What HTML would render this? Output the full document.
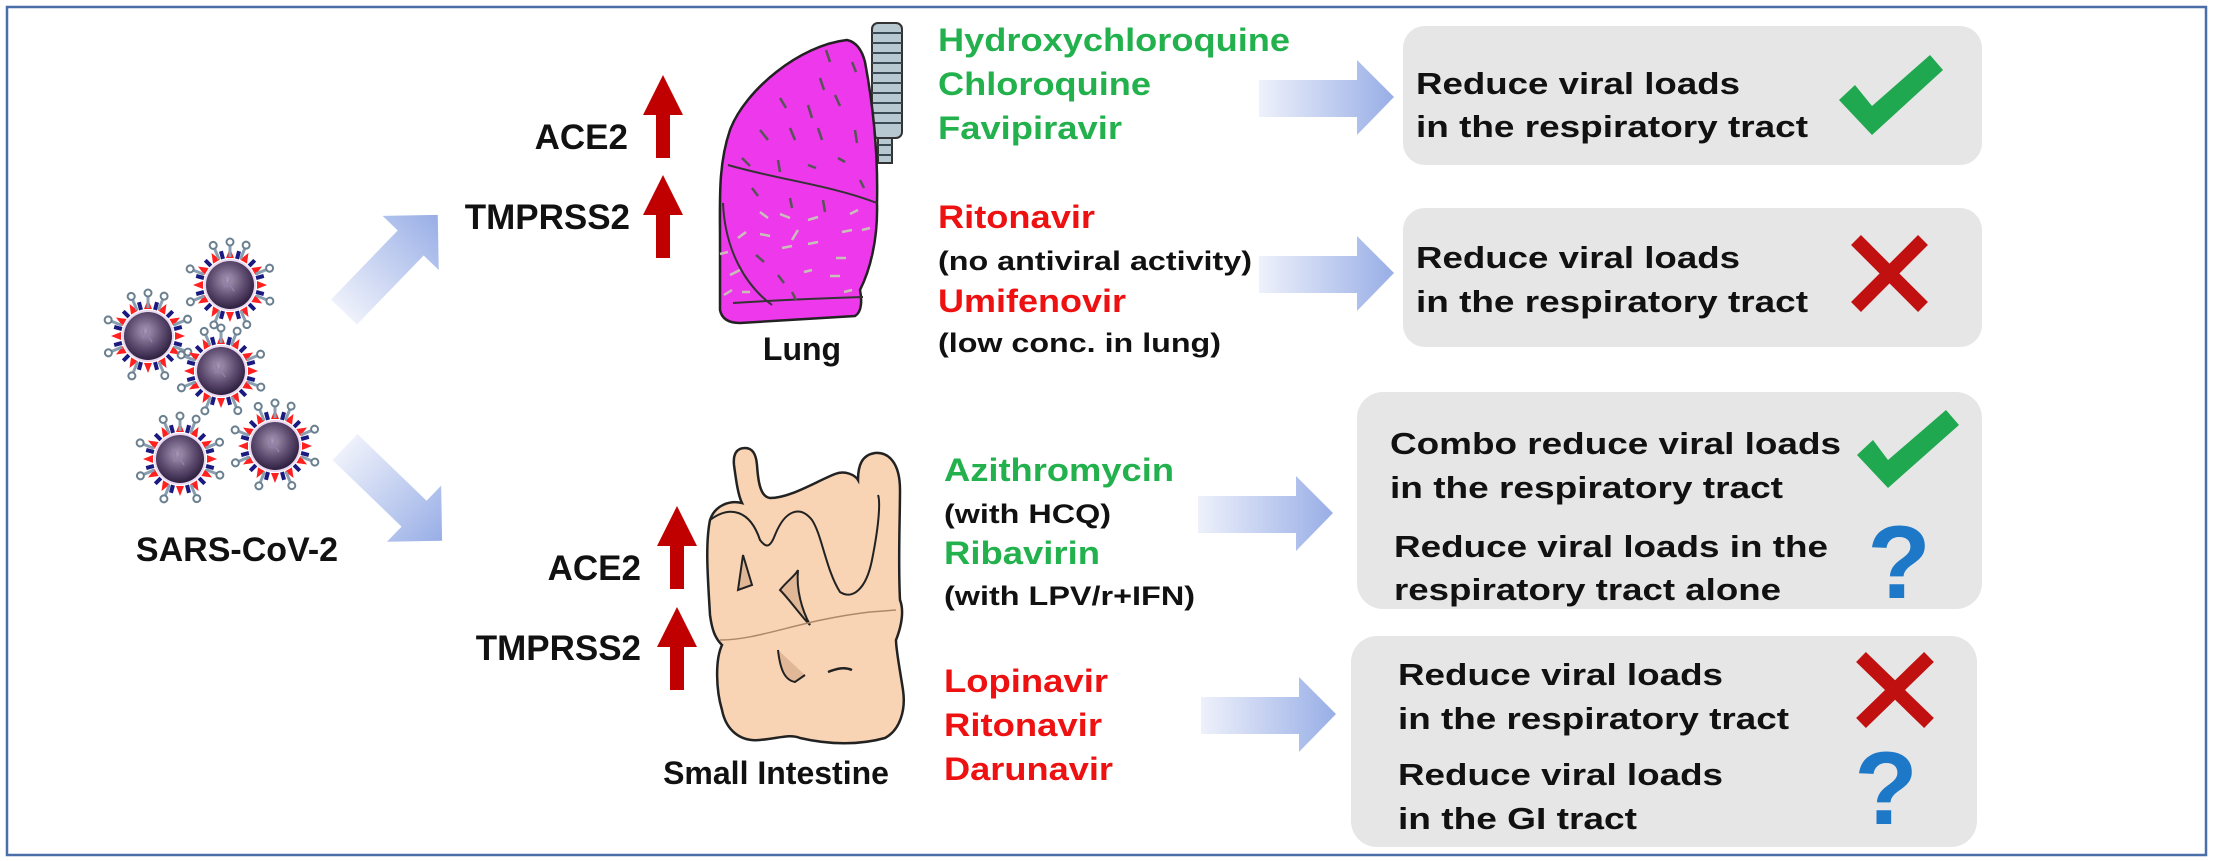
<!DOCTYPE html>
<html><head><meta charset="utf-8"><style>
html,body{margin:0;padding:0;background:#fff;}
svg{display:block;}
text{font-family:"Liberation Sans",Arial,sans-serif;font-weight:bold;}
</style></head><body>
<svg width="2213" height="861" viewBox="0 0 2213 861" xmlns="http://www.w3.org/2000/svg">
<defs>
<linearGradient id="ag" x1="0" y1="0" x2="1" y2="0">
<stop offset="0" stop-color="#eef1fb"/><stop offset="1" stop-color="#98aee6"/></linearGradient>
<radialGradient id="vg" cx="0.45" cy="0.4" r="0.6">
<stop offset="0" stop-color="#a898b4"/><stop offset="0.6" stop-color="#5e4c70"/><stop offset="1" stop-color="#2e2040"/></radialGradient>
<g id="sp">
<polygon points="-4,-27 4,-27 0,-37" fill="#ff2020"/>
<rect x="-2" y="-35" width="4" height="8" fill="#1a1a80" transform="rotate(15)"/>
</g>
<g id="lp"><line x1="0" y1="-28" x2="0" y2="-40" stroke="#8aa0b0" stroke-width="3"/><circle cx="0" cy="-43" r="3.5" fill="none" stroke="#6a8090" stroke-width="2"/></g>
<g id="virus">
<use href="#sp"/><use href="#sp" transform="rotate(30)"/><use href="#sp" transform="rotate(60)"/><use href="#sp" transform="rotate(90)"/><use href="#sp" transform="rotate(120)"/><use href="#sp" transform="rotate(150)"/><use href="#sp" transform="rotate(180)"/><use href="#sp" transform="rotate(210)"/><use href="#sp" transform="rotate(240)"/><use href="#sp" transform="rotate(270)"/><use href="#sp" transform="rotate(300)"/><use href="#sp" transform="rotate(330)"/>
<use href="#lp" transform="rotate(22)"/><use href="#lp" transform="rotate(67)"/><use href="#lp" transform="rotate(112)"/><use href="#lp" transform="rotate(157)"/><use href="#lp" transform="rotate(202)"/><use href="#lp" transform="rotate(247)"/><use href="#lp" transform="rotate(292)"/><use href="#lp" transform="rotate(337)"/><use href="#lp" transform="rotate(0)"/>
<circle r="26" fill="#e8d8f0"/>
<circle r="24" fill="url(#vg)"/>
<path d="M-8,-10 q6,6 2,12 q6,-4 10,4 M0,-12 q2,8 -4,14" stroke="#9080a8" stroke-width="1.5" fill="none"/>
</g>
<g id="harrow"><polygon points="0,20 98,20 98,0 135,37 98,75 98,57 0,57" fill="url(#ag)"/></g>
<g id="darrow"><polygon points="0,-18 96,-18 96,-39 135,0 96,39 96,18 0,18" fill="url(#ag)"/></g>
<g id="redup"><polygon points="0,40 20,0 40,40 27,40 27,83 13,83 13,40" fill="#c00000"/></g>
</defs>

<rect x="7" y="7" width="2199" height="848" fill="#fff" stroke="#4a6fa8" stroke-width="2.5"/>

<use href="#virus" x="230" y="285"/>
<use href="#virus" x="148" y="336"/>
<use href="#virus" x="221" y="371"/>
<use href="#virus" x="180" y="459"/>
<use href="#virus" x="275" y="446"/>
<text x="237" y="561" font-size="34" text-anchor="middle" fill="#111">SARS-CoV-2</text>

<use href="#darrow" transform="translate(344,312) rotate(-46)"/>
<use href="#darrow" transform="translate(345,447) rotate(44)"/>

<text x="628" y="149" font-size="35" text-anchor="end" fill="#111">ACE2</text>
<text x="630" y="229" font-size="35" text-anchor="end" fill="#111">TMPRSS2</text>
<use href="#redup" transform="translate(643,75)"/>
<use href="#redup" transform="translate(643,175)"/>

<g>
<rect x="872" y="23" width="30" height="115" rx="6" fill="#b8c8d0" stroke="#333" stroke-width="2"/>
<path d="M878,138 L878,163 L892,163 L892,138 Z" fill="#b8c8d0" stroke="#333" stroke-width="2"/>
<g stroke="#3a4a55" stroke-width="2">
<line x1="872" y1="33" x2="902" y2="33"/><line x1="872" y1="43" x2="902" y2="43"/><line x1="872" y1="53" x2="902" y2="53"/><line x1="872" y1="63" x2="902" y2="63"/><line x1="872" y1="73" x2="902" y2="73"/><line x1="872" y1="83" x2="902" y2="83"/><line x1="872" y1="93" x2="902" y2="93"/><line x1="872" y1="103" x2="902" y2="103"/><line x1="872" y1="113" x2="902" y2="113"/><line x1="872" y1="123" x2="902" y2="123"/><line x1="878" y1="145" x2="892" y2="145"/><line x1="878" y1="155" x2="892" y2="155"/>
</g>
</g>
<path d="M847,40 C800,45 745,90 730,130 C718,165 720,200 720,240 L720,310 C722,320 730,323 740,323 L855,316 C862,312 862,300 860,290 C870,270 878,240 877,203 C878,160 874,110 865,62 C862,50 856,42 847,40 Z" fill="#ee38ec" stroke="#222" stroke-width="2.5"/>
<path d="M728,165 C780,180 830,185 877,203" stroke="#333" stroke-width="2" fill="none"/>
<path d="M723,203 C725,250 745,285 772,305" stroke="#333" stroke-width="2" fill="none"/>
<path d="M733,303 C780,300 830,298 863,297" stroke="#333" stroke-width="2" fill="none"/>
<g stroke="#555" stroke-width="2.5">
<line x1="826" y1="50" x2="830" y2="62"/><line x1="852" y1="62" x2="856" y2="72"/><line x1="820" y1="78" x2="824" y2="90"/><line x1="780" y1="98" x2="786" y2="108"/><line x1="808" y1="105" x2="812" y2="118"/><line x1="835" y1="95" x2="840" y2="106"/><line x1="760" y1="130" x2="768" y2="140"/><line x1="790" y1="128" x2="795" y2="140"/><line x1="818" y1="128" x2="822" y2="140"/><line x1="855" y1="130" x2="857" y2="143"/><line x1="742" y1="158" x2="750" y2="166"/><line x1="778" y1="160" x2="780" y2="172"/><line x1="808" y1="165" x2="816" y2="168"/><line x1="838" y1="158" x2="845" y2="162"/><line x1="752" y1="188" x2="758" y2="196"/><line x1="790" y1="198" x2="792" y2="208"/><line x1="823" y1="200" x2="825" y2="212"/><line x1="860" y1="180" x2="864" y2="188"/><line x1="756" y1="255" x2="764" y2="262"/><line x1="778" y1="275" x2="784" y2="283"/><line x1="792" y1="292" x2="796" y2="300"/>
</g>
<g stroke="#c8c0b8" stroke-width="2.5">
<line x1="760" y1="212" x2="768" y2="218"/><line x1="780" y1="214" x2="790" y2="218"/><line x1="808" y1="220" x2="818" y2="217"/><line x1="850" y1="214" x2="858" y2="210"/><line x1="738" y1="238" x2="746" y2="232"/><line x1="760" y1="234" x2="770" y2="236"/><line x1="792" y1="240" x2="798" y2="230"/><line x1="842" y1="232" x2="852" y2="230"/><line x1="862" y1="230" x2="870" y2="228"/><line x1="782" y1="248" x2="792" y2="246"/><line x1="808" y1="244" x2="818" y2="242"/><line x1="720" y1="254" x2="728" y2="252"/><line x1="836" y1="258" x2="846" y2="258"/><line x1="730" y1="275" x2="740" y2="270"/><line x1="804" y1="272" x2="812" y2="270"/><line x1="830" y1="276" x2="840" y2="276"/><line x1="724" y1="295" x2="732" y2="290"/><line x1="742" y1="292" x2="750" y2="292"/><line x1="844" y1="292" x2="852" y2="290"/>
</g>
<text x="802" y="360" font-size="32" text-anchor="middle" fill="#111">Lung</text>

<text x="641" y="580" font-size="35" text-anchor="end" fill="#111">ACE2</text>
<text x="641" y="660" font-size="35" text-anchor="end" fill="#111">TMPRSS2</text>
<use href="#redup" transform="translate(657,506)"/>
<use href="#redup" transform="translate(657,607)"/>

<path d="M745,448 C736,448 733,455 734,465 C736,480 738,495 742,503 C730,500 715,505 710,520 C705,545 708,580 710,615 C712,630 715,638 722,645 C715,660 716,690 722,710 C726,730 740,742 760,740 C780,738 790,734 800,738 C830,745 860,745 885,738 C900,730 906,710 903,690 C900,670 896,650 896,640 C902,625 904,610 900,600 C898,560 900,520 900,490 C900,462 888,452 875,453 C862,455 858,465 858,480 C855,475 845,470 835,474 C815,482 790,498 770,498 C760,497 758,480 757,465 C756,453 752,448 745,448 Z" fill="#f8d4b4" stroke="#222" stroke-width="2.5"/>
<path d="M710,520 C730,505 750,510 760,540 C766,548 770,548 775,535 C785,510 800,505 812,520 C822,535 826,570 840,592 C852,600 866,590 872,560 C880,520 880,500 878,495" stroke="#222" stroke-width="2" fill="none"/>
<path d="M743,555 L738,590 L752,585 Z" fill="#e0b898" stroke="#222" stroke-width="2"/>
<path d="M780,590 C788,580 796,575 798,570 C796,590 802,610 810,625 C800,615 790,600 780,590 Z" fill="#e0b898" stroke="#222" stroke-width="2"/>
<path d="M778,650 C780,668 784,680 795,682 L805,675" stroke="#222" stroke-width="2" fill="#e0b898"/>
<path d="M828,672 C838,668 845,667 852,670" stroke="#222" stroke-width="2.5" fill="none"/>
<path d="M720,640 C760,640 800,620 870,612 L896,610" stroke="#b08868" stroke-width="1.5" fill="none"/>
<text x="776" y="784" font-size="32" text-anchor="middle" fill="#111">Small Intestine</text>

<g font-size="32">
<text x="938" y="51" fill="#22b14c" textLength="352" lengthAdjust="spacingAndGlyphs">Hydroxychloroquine</text>
<text x="938" y="95" fill="#22b14c" textLength="213" lengthAdjust="spacingAndGlyphs">Chloroquine</text>
<text x="938" y="139" fill="#22b14c" textLength="184" lengthAdjust="spacingAndGlyphs">Favipiravir</text>
<text x="938" y="228" fill="#ee1111" textLength="157" lengthAdjust="spacingAndGlyphs">Ritonavir</text>
<text x="938" y="312" fill="#ee1111" textLength="188" lengthAdjust="spacingAndGlyphs">Umifenovir</text>
<text x="944" y="481" fill="#22b14c" textLength="230" lengthAdjust="spacingAndGlyphs">Azithromycin</text>
<text x="944" y="564" fill="#22b14c" textLength="156" lengthAdjust="spacingAndGlyphs">Ribavirin</text>
<text x="944" y="692" fill="#ee1111" textLength="164" lengthAdjust="spacingAndGlyphs">Lopinavir</text>
<text x="944" y="736" fill="#ee1111" textLength="158" lengthAdjust="spacingAndGlyphs">Ritonavir</text>
<text x="944" y="780" fill="#ee1111" textLength="169" lengthAdjust="spacingAndGlyphs">Darunavir</text>
</g>
<g font-size="27" fill="#111">
<text x="938" y="270" textLength="314" lengthAdjust="spacingAndGlyphs">(no antiviral activity)</text>
<text x="938" y="352" textLength="283" lengthAdjust="spacingAndGlyphs">(low conc. in lung)</text>
<text x="944" y="523" textLength="167" lengthAdjust="spacingAndGlyphs">(with HCQ)</text>
<text x="944" y="605" textLength="251" lengthAdjust="spacingAndGlyphs">(with LPV/r+IFN)</text>
</g>

<use href="#harrow" x="1259" y="60"/>
<use href="#harrow" x="1259" y="236"/>
<use href="#harrow" x="1198" y="476"/>
<use href="#harrow" x="1201" y="677"/>

<rect x="1403" y="26" width="579" height="139" rx="22" fill="#e6e6e6"/>
<rect x="1403" y="208" width="579" height="139" rx="22" fill="#e6e6e6"/>
<rect x="1357" y="392" width="625" height="217" rx="26" fill="#e6e6e6"/>
<rect x="1351" y="636" width="626" height="211" rx="26" fill="#e6e6e6"/>

<g font-size="31" fill="#111">
<text x="1416" y="94" textLength="324" lengthAdjust="spacingAndGlyphs">Reduce viral loads</text>
<text x="1416" y="137" textLength="392" lengthAdjust="spacingAndGlyphs">in the respiratory tract</text>
<text x="1416" y="268" textLength="324" lengthAdjust="spacingAndGlyphs">Reduce viral loads</text>
<text x="1416" y="312" textLength="392" lengthAdjust="spacingAndGlyphs">in the respiratory tract</text>
<text x="1390" y="454" textLength="451" lengthAdjust="spacingAndGlyphs">Combo reduce viral loads</text>
<text x="1390" y="498" textLength="393" lengthAdjust="spacingAndGlyphs">in the respiratory tract</text>
<text x="1394" y="557" textLength="434" lengthAdjust="spacingAndGlyphs">Reduce viral loads in the</text>
<text x="1394" y="600" textLength="387" lengthAdjust="spacingAndGlyphs">respiratory tract alone</text>
<text x="1398" y="685" textLength="325" lengthAdjust="spacingAndGlyphs">Reduce viral loads</text>
<text x="1398" y="729" textLength="391" lengthAdjust="spacingAndGlyphs">in the respiratory tract</text>
<text x="1398" y="785" textLength="325" lengthAdjust="spacingAndGlyphs">Reduce viral loads</text>
<text x="1398" y="829" textLength="239" lengthAdjust="spacingAndGlyphs">in the GI tract</text>
</g>

<polygon points="1839,100 1855,85 1872,106 1930,55 1943,70 1872,135" fill="#1fa84f"/>
<polygon points="1857,455 1873,440 1888,460 1946,410 1959,425 1888,488" fill="#1fa84f"/>
<g stroke="#c01010" stroke-width="14" stroke-linecap="butt">
<line x1="1856" y1="240" x2="1923" y2="307"/><line x1="1923" y1="240" x2="1856" y2="307"/>
<line x1="1861" y1="657" x2="1929" y2="723"/><line x1="1929" y1="657" x2="1861" y2="723"/>
</g>
<text x="1899" y="598" font-size="104" text-anchor="middle" fill="#1e78c8">?</text>
<text x="1886" y="824" font-size="104" text-anchor="middle" fill="#1e78c8">?</text>
</svg>
</body></html>
